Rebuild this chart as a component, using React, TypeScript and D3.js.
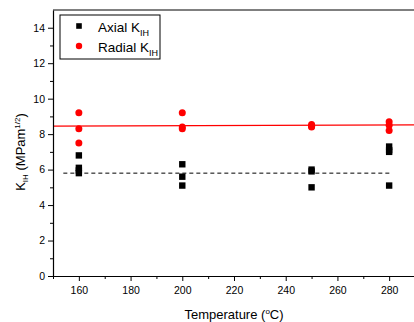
import { useRef, useEffect } from 'react';
import { select, scaleLinear, axisBottom, axisLeft, range } from 'd3';

// temperatures of each measurement group
const temps = [160, 200, 250, 280];

// values, one list per temperature
const axialValues = [
  [6.8, 6.1, 5.95, 5.8],
  [6.3, 5.6, 5.1],
  [6.0, 5.9, 5.0],
  [7.3, 7.1, 7.0, 5.1],
];
const radialValues = [
  [9.2, 8.3, 7.5],
  [9.2, 8.4, 8.3],
  [8.55, 8.45, 8.4],
  [8.7, 8.5, 8.2],
];

// fit lines (start x, end x, start y, end y)
const radialFit = [150, 290, 8.45, 8.52];
const axialFit = [154, 281, 5.8, 5.8];

const xTicks = [160, 180, 200, 220, 240, 260, 280];
const yTicks = [0, 2, 4, 6, 8, 10, 12, 14];

const W = 414;
const H = 322;
const margin = { top: 10, right: -1, bottom: 46, left: 53 };

const App = () => {
  const svgRef = useRef<SVGSVGElement>(null);

  useEffect(() => {
    const svg = select(svgRef.current);
    svg.selectAll('*').remove();
    const font = 'Liberation Sans, Arial, sans-serif';

    const x = scaleLinear().domain([150, 290]).range([margin.left, W - margin.right]);
    const y = scaleLinear().domain([0, 15]).range([H - margin.bottom, margin.top]);

    // frame top
    svg.append('line')
      .attr('x1', x(150)).attr('x2', x(290))
      .attr('y1', y(15)).attr('y2', y(15))
      .attr('stroke', '#000').attr('stroke-width', 1);

    // fit lines
    svg.append('line')
      .attr('x1', x(radialFit[0])).attr('x2', x(radialFit[1]))
      .attr('y1', y(radialFit[2])).attr('y2', y(radialFit[3]))
      .attr('stroke', '#f00').attr('stroke-width', 1.2);
    svg.append('line')
      .attr('x1', x(axialFit[0])).attr('x2', x(axialFit[1]))
      .attr('y1', y(axialFit[2])).attr('y2', y(axialFit[3]))
      .attr('stroke', '#000').attr('stroke-width', 1)
      .attr('stroke-dasharray', '4,3');

    // minor ticks
    const minorX = range(150, 291, 10).filter((v) => !xTicks.includes(v));
    svg.append('g')
      .attr('transform', `translate(0,${y(0)})`)
      .call(axisBottom(x).tickValues(minorX).tickSize(3).tickFormat(() => ''))
      .call((g) => g.select('.domain').remove());
    const minorY = range(1, 15, 2);
    svg.append('g')
      .attr('transform', `translate(${x(150)},0)`)
      .call(axisLeft(y).tickValues(minorY).tickSize(3).tickFormat(() => ''))
      .call((g) => g.select('.domain').remove());

    // major axes
    const gx = svg.append('g')
      .attr('transform', `translate(0,${y(0)})`)
      .call(axisBottom(x).tickValues(xTicks).tickSize(5).tickSizeOuter(0));
    gx.selectAll('text')
      .attr('font-family', font).attr('font-size', 10.5).attr('fill', '#000')
      .attr('y', 18).attr('dy', 0);
    gx.select('.domain').attr('stroke-width', 1.2);

    const gy = svg.append('g')
      .attr('transform', `translate(${x(150)},0)`)
      .call(axisLeft(y).tickValues(yTicks).tickSize(5).tickSizeOuter(0));
    gy.selectAll('text').attr('font-family', font).attr('font-size', 10.5).attr('fill', '#000');
    gy.select('.domain').attr('stroke-width', 1.2);

    // data points
    temps.forEach((t, i) => {
      svg.append('g').selectAll('circle')
        .data(radialValues[i])
        .join('circle')
        .attr('cx', x(t)).attr('cy', (d) => y(d))
        .attr('r', 3.5).attr('fill', '#f00');
      svg.append('g').selectAll('rect')
        .data(axialValues[i])
        .join('rect')
        .attr('x', x(t) - 3.2).attr('y', (d) => y(d) - 3.2)
        .attr('width', 6.4).attr('height', 6.4).attr('fill', '#000');
    });

    // legend
    const lg = svg.append('g').attr('font-family', font).attr('font-size', 13.5);
    lg.append('rect')
      .attr('x', 60).attr('y', 15).attr('width', 100).attr('height', 44)
      .attr('fill', '#fff').attr('stroke', '#000').attr('stroke-width', 1);
    lg.append('rect').attr('x', 79 - 2.8).attr('y', 26 - 2.8).attr('width', 5.6).attr('height', 5.6).attr('fill', '#000');
    lg.append('circle').attr('cx', 79).attr('cy', 46).attr('r', 3.2).attr('fill', '#f00');
    const items = [['Axial K', 32], ['Radial K', 52]] as const;
    items.forEach(([label, yy]) => {
      const t = lg.append('text').attr('x', 98).attr('y', yy);
      t.append('tspan').text(label);
      t.append('tspan').attr('font-size', 9).attr('dy', 4).text('IH');
    });

    // axis titles
    const xt = svg.append('text')
      .attr('x', 234).attr('y', 319)
      .attr('text-anchor', 'middle').attr('font-family', font).attr('font-size', 13);
    xt.append('tspan').text('Temperature (');
    xt.append('tspan').attr('font-size', 8).attr('dy', -5).text('o');
    xt.append('tspan').attr('dy', 5).text('C)');

    const yt = svg.append('text')
      .attr('transform', `translate(25,152) rotate(-90)`)
      .attr('text-anchor', 'middle').attr('font-family', font).attr('font-size', 13);
    yt.append('tspan').text('K');
    yt.append('tspan').attr('font-size', 8).attr('dy', 3).text('IH');
    yt.append('tspan').attr('dy', -3).text(' (MPam');
    yt.append('tspan').attr('font-size', 8).attr('dy', -5).text('1/2');
    yt.append('tspan').attr('dy', 5).text(')');
  }, []);

  return (
    <svg
      ref={svgRef}
      width={W}
      height={H}
      style={{ position: 'absolute', left: 0, top: 0, background: '#fff' }}
    ></svg>
  );
};

export default App;
